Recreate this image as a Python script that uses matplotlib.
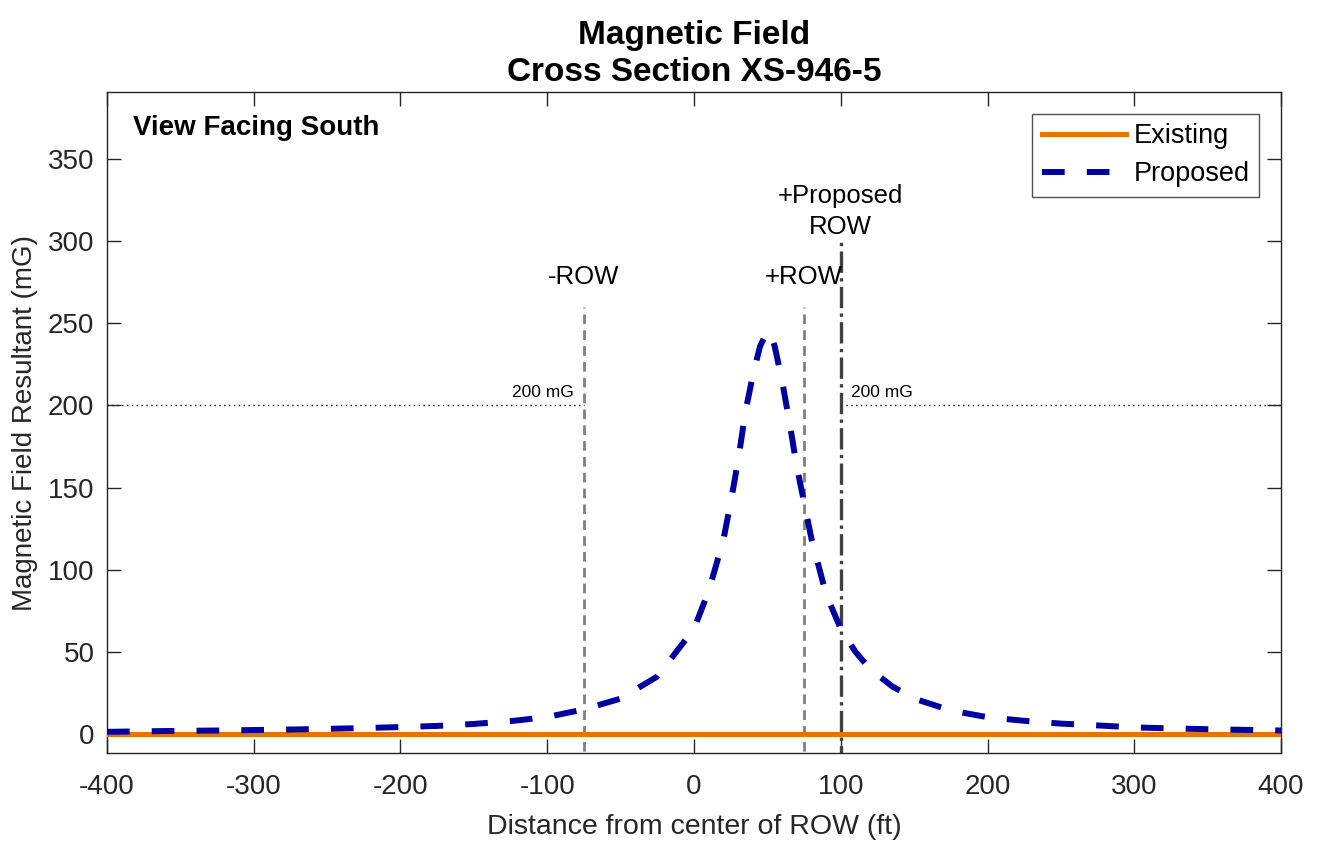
import matplotlib
matplotlib.use('Agg')
import matplotlib.pyplot as plt

plt.rcParams['font.family'] = ['Liberation Sans', 'DejaVu Sans']
plt.rcParams['axes.unicode_minus'] = False

# Dati (distanza in ft, campo in mG)
dist_existing = [-400, 400]
field_existing = [0, 0]

dist_proposed = [-400, -375, -350, -325, -300, -275, -250, -225, -200, -175,
                 -150, -125, -100, -75, -50, -25, 0, 10, 20, 25, 30, 35, 40,
                 45, 50, 52, 55, 60, 65, 70, 75, 80, 90, 100, 110, 120, 135,
                 150, 175, 200, 225, 250, 275, 300, 325, 350, 375, 400]
field_proposed = [1.3, 1.6, 1.9, 2.1, 2.4, 2.7, 3.1, 3.6, 4.2, 4.9,
                  6.1, 7.8, 10.3, 15.0, 21.5, 35, 64, 87, 118, 141, 166, 196, 218,
                  236, 245, 244, 236, 215, 190, 163, 141, 119, 85, 64, 50, 39.5, 29,
                  21.5, 14.3, 10.2, 8.0, 6.3, 5.2, 4.0, 3.4, 2.9, 2.5, 2.1]

row_edges = [-75, 75]
row_labels = ['-ROW', '+ROW']
prop_row = 100
limit_mg = 200

fig = plt.figure(figsize=(13.17, 8.44), dpi=100)
ax = fig.add_axes([0.0812, 0.1078, 0.8915, 0.7832])

# linee di riferimento
for x, lab in zip(row_edges, row_labels):
    ax.plot([x, x], [-20, 260], color='#808080', linewidth=2, dashes=(3.5, 2.2), zorder=2)
    ax.text(x, 278, lab, ha='center', va='center', fontsize=18.5)
ax.plot([prop_row, prop_row], [-20, 300], color='#404040', linewidth=2.4,
        linestyle='-.', zorder=2)
ax.text(prop_row, 318, '+Proposed\nROW', ha='center', va='center', fontsize=18.5,
        linespacing=1.4)

ax.plot([-400, row_edges[0]], [limit_mg, limit_mg], color='black', linewidth=1,
        linestyle=(0, (1, 2.5)), zorder=1)
ax.plot([prop_row, 400], [limit_mg, limit_mg], color='black', linewidth=1,
        linestyle=(0, (1, 2.5)), zorder=1)
ax.text(-82, 203, '200 mG', ha='right', va='bottom', fontsize=12.5)
ax.text(107, 203, '200 mG', ha='left', va='bottom', fontsize=12.5)

# curve
ax.plot(dist_existing, field_existing, color='#E87400', linewidth=3.6,
        label='Existing', zorder=3)
ax.plot(dist_proposed, field_proposed, color='#0000A0', linewidth=4.3,
        dashes=(3.8, 3.7), dash_capstyle='butt', label='Proposed', zorder=4)

ax.text(-382, 369, 'View Facing South', fontsize=20, fontweight='bold',
        ha='left', va='center')

ax.set_xlim(-400, 400)
ax.set_ylim(-11.6, 390.8)
ax.set_xticks(range(-400, 401, 100))
ax.set_yticks(range(0, 351, 50))
ax.tick_params(direction='in', top=True, right=True, length=10, width=1,
               colors='#262626', labelsize=20)
ax.tick_params(axis='x', pad=15)
ax.tick_params(axis='y', pad=9)
for s in ax.spines.values():
    s.set_color('#262626')
    s.set_linewidth(1)

ax.set_xlabel('Distance from center of ROW (ft)', fontsize=20.5, color='#262626', labelpad=10)
ax.set_ylabel('Magnetic Field Resultant (mG)', fontsize=20, color='#262626', labelpad=7)
ax.set_title('Magnetic Field\nCross Section XS-946-5', fontsize=24, fontweight='bold',
             linespacing=1.25, pad=8)

leg = ax.legend(loc='upper right', fontsize=19.5, frameon=True, fancybox=False,
                edgecolor='#262626', handlelength=3.1, borderpad=0.35,
                labelspacing=0.45, handletextpad=0.3, borderaxespad=0.8)
leg.get_frame().set_linewidth(1)

fig.savefig('out.png', dpi=100)
